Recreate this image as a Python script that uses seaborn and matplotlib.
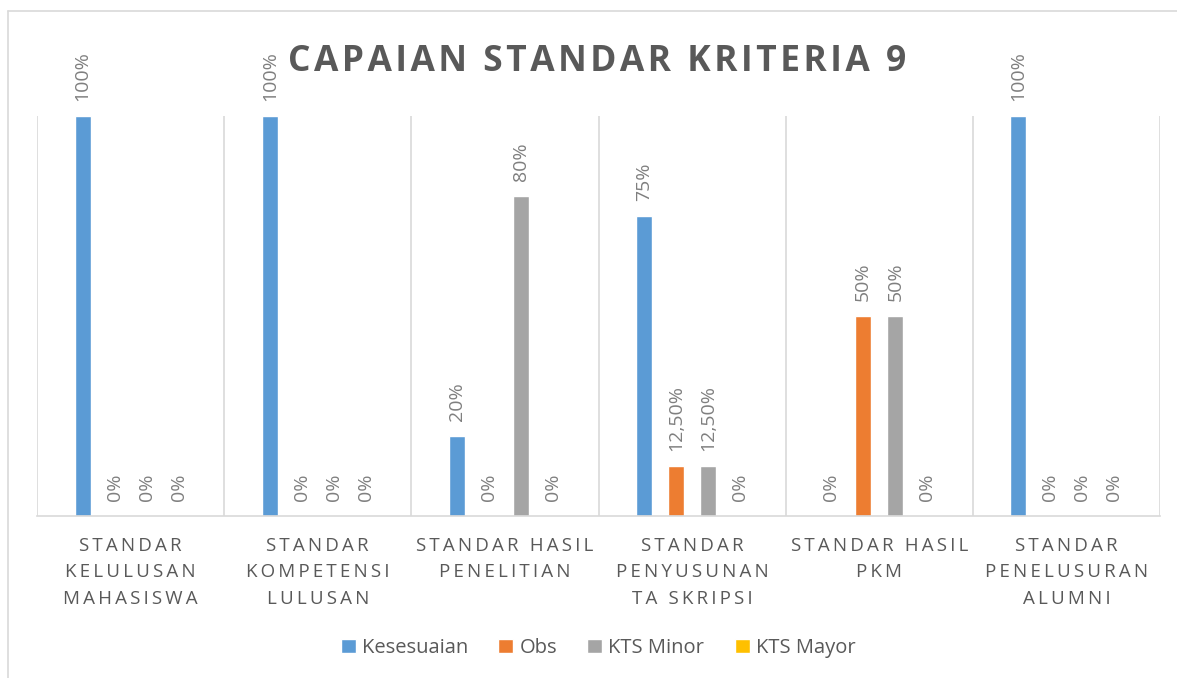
import numpy as np
import pandas as pd
import matplotlib
matplotlib.use("Agg")
import matplotlib.pyplot as plt
import seaborn as sns
from matplotlib.lines import Line2D

categories = [
    "STANDAR\nKELULUSAN\nMAHASISWA",
    "STANDAR\nKOMPETENSI\nLULUSAN",
    "STANDAR HASIL\nPENELITIAN",
    "STANDAR\nPENYUSUNAN\nTA SKRIPSI",
    "STANDAR HASIL\nPKM",
    "STANDAR\nPENELUSURAN\nALUMNI",
]
series = ["Kesesuaian", "Obs", "KTS Minor", "KTS Mayor"]
kesesuaian = [100, 100, 20, 75, 0, 100]
obs = [0, 0, 0, 12.5, 50, 0]
kts_minor = [0, 0, 80, 12.5, 50, 0]
kts_mayor = [0, 0, 0, 0, 0, 0]
colors = ["#5B9BD5", "#ED7D31", "#A5A5A5", "#FFC000"]
title = "CAPAIAN STANDAR KRITERIA 9"

rows = []
for name, vals in zip(series, [kesesuaian, obs, kts_minor, kts_mayor]):
    for cat, v in zip(categories, vals):
        rows.append({"kategori": cat, "nilai": v, "seri": name})
df = pd.DataFrame(rows)

sns.set_style("white")
plt.rcParams["font.family"] = ["Open Sans", "DejaVu Sans"]

fig = plt.figure(figsize=(11.77, 6.78), dpi=100)
ax = fig.add_axes([37 / 1177, 1 - 516 / 678, (1160 - 37) / 1177, 400 / 678])

sns.barplot(data=df, x="kategori", y="nilai", hue="seri", palette=colors,
            width=0.684, gap=0.5, ax=ax, saturation=1)

def fmt(v):
    if float(v).is_integer():
        return f"{v:.0f}%"
    return f"{v:.2f}%".replace(".", ",")

for cont, name in zip(ax.containers, series):
    vals = df[df["seri"] == name]["nilai"].tolist()
    ax.bar_label(cont, labels=[fmt(v) for v in vals], rotation=90,
                 padding=11, fontsize=14, color="#7F7F7F")

ax.set_ylim(0, 100)
ax.set_xlim(-0.5, len(categories) - 0.5)
ax.set_xlabel("")
ax.set_ylabel("")
ax.set_yticks([])

def spaced(s, sep="\u2009"):
    return "\n".join(sep.join(list(line)) for line in s.split("\n"))

ax.set_xticks(range(len(categories)))
ax.set_xticklabels([spaced(c) for c in categories], fontsize=13.5,
                   color="#595959", linespacing=1.6, va="top")
ax.tick_params(axis="x", length=0, pad=15)
ax.set_xticks(np.arange(-0.5, len(categories)), minor=True)
ax.tick_params(axis="x", which="minor", length=0)
ax.grid(which="minor", axis="x", color="#D9D9D9", linewidth=1.2)
ax.grid(which="major", visible=False)
for s in ["left", "top", "right"]:
    ax.spines[s].set_visible(False)
ax.spines["bottom"].set_color("#D9D9D9")
ax.spines["bottom"].set_linewidth(1.2)

handles, labels = ax.get_legend_handles_labels()
ax.get_legend().remove()
fig.legend(handles, labels, loc="center", bbox_to_anchor=(598 / 1177, 1 - 648 / 678),
           ncol=4, frameon=False, fontsize=14.5, handlelength=0.75, handleheight=0.75,
           handletextpad=0.3, columnspacing=1.5, labelcolor="#595959")

fig.text(597 / 1177, 1 - 62 / 678, spaced(title, "\u200a"), ha="center", va="center",
         fontsize=25.5, fontweight="bold", color="#595959")

fig.add_artist(Line2D([8 / 1177, 1], [1 - 11 / 678] * 2, color="#D9D9D9", lw=1.2))
fig.add_artist(Line2D([8 / 1177] * 2, [0, 1 - 11 / 678], color="#D9D9D9", lw=1.2))

fig.savefig("out.png", dpi=100)
